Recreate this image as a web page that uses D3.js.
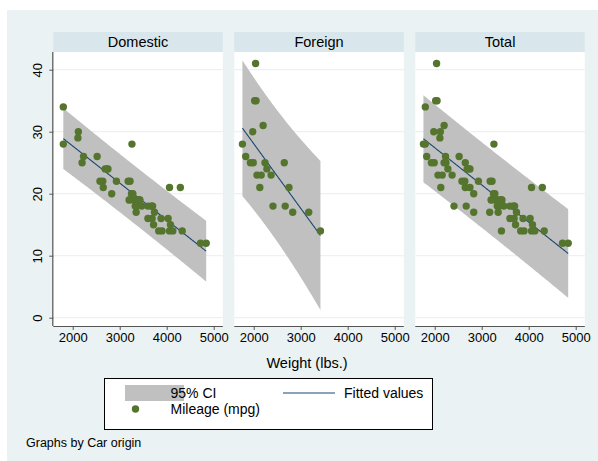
<!DOCTYPE html>
<html>
<head>
<meta charset="utf-8">
<script src="https://cdn.jsdelivr.net/npm/d3@7"></script>
<style>
  html, body { margin: 0; padding: 0; background: #ffffff; }
  svg { display: block; }
  text { font-family: "Liberation Sans", Arial, Helvetica, sans-serif; fill: #000; }
</style>
</head>
<body>
<svg id="chart" width="598" height="461"></svg>
<script>
// 1978 automobile data: curb weight (lbs.) and mileage (mpg), by car origin
const domesticWeight = [2930, 3350, 2640, 3250, 4080, 3670, 2230, 3280, 3880, 3400, 4330, 3900, 4290,
  2110, 3690, 3180, 3220, 2750, 3430, 2120, 3600, 3600, 3740, 1800, 2650, 4840, 4720, 3830, 2580,
  4060, 3720, 3370, 4130, 2830, 4060, 3310, 3300, 3690, 3370, 2730, 4030, 3260, 1800, 2200, 2520,
  3330, 3700, 3470, 3210, 3200, 3420, 2690];
const domesticMpg = [22, 17, 22, 20, 15, 18, 26, 20, 16, 19, 14, 14, 21,
  29, 16, 22, 22, 24, 19, 30, 18, 16, 17, 28, 21, 12, 12, 14, 22,
  14, 15, 18, 14, 20, 21, 19, 19, 18, 19, 24, 16, 28, 34, 25, 26,
  18, 18, 18, 19, 19, 19, 24];
const foreignWeight = [2830, 2070, 2650, 2370, 2020, 2280, 2750, 2130, 2240, 1760, 1980, 3420, 1830,
  2050, 2410, 2200, 2670, 2160, 2040, 1930, 1990, 3170];
const foreignMpg = [17, 23, 25, 23, 35, 24, 21, 21, 25, 28, 30, 14, 26,
  35, 18, 31, 18, 23, 41, 25, 25, 17];

const panelTitles = ["Domestic", "Foreign", "Total"];
const xTicks = [2000, 3000, 4000, 5000];
const yTicks = [0, 10, 20, 30, 40];
const legendLabels = ["95% CI", "Fitted values", "Mileage (mpg)"];
const xTitle = "Weight (lbs.)";
const note = "Graphs by Car origin";

// two-sided 95% Student t critical values by residual degrees of freedom
const tCrit = { 20: 2.0860, 50: 2.0086, 72: 1.9935 };

const groups = [
  { w: domesticWeight, m: domesticMpg },
  { w: foreignWeight, m: foreignMpg },
  { w: domesticWeight.concat(foreignWeight), m: domesticMpg.concat(foreignMpg) }
];

// least-squares line with 95% forecast interval (stdf) over the observed weight range
function linearFitCI(xs, ys, steps) {
  const n = xs.length;
  const mx = d3.mean(xs), my = d3.mean(ys);
  let sxx = 0, sxy = 0;
  for (let i = 0; i < n; i++) { sxx += (xs[i] - mx) ** 2; sxy += (xs[i] - mx) * (ys[i] - my); }
  const b = sxy / sxx, a = my - b * mx;
  let sse = 0;
  for (let i = 0; i < n; i++) sse += (ys[i] - a - b * xs[i]) ** 2;
  const s = Math.sqrt(sse / (n - 2));
  const t = tCrit[n - 2];
  const [lo, hi] = d3.extent(xs);
  return d3.range(steps + 1).map(k => {
    const x = lo + (hi - lo) * k / steps;
    const fit = a + b * x;
    const half = t * s * Math.sqrt(1 + 1 / n + (x - mx) ** 2 / sxx);
    return { x, fit, lower: fit - half, upper: fit + half };
  });
}

const C = {
  bg: "#eaf2f3", strip: "#d9e6eb", grid: "#eaf2f3", band: "#c0c0c0",
  line: "#1a476f", marker: "#55752f", axis: "#555555"
};

const svg = d3.select("#chart");
svg.append("rect").attr("x", 7).attr("y", 10).attr("width", 591).attr("height", 451).attr("fill", C.bg);

const plotTop = 52, plotBottom = 326, stripTop = 32;
const panelW = 169.5, panelStep = 181, firstLeft = 53.3;

const y = d3.scaleLinear().domain([0, 40]).range([317.7, 69.7]);

panelTitles.forEach((title, p) => {
  const left = firstLeft + p * panelStep;
  const x = d3.scaleLinear().domain([1587, 1587 + panelW / 0.047]).range([left, left + panelW]);
  const g = svg.append("g");

  // title strip
  g.append("rect").attr("x", left).attr("y", stripTop).attr("width", panelW).attr("height", plotTop - stripTop).attr("fill", C.strip);
  g.append("text").attr("x", left + panelW / 2).attr("y", (stripTop + plotTop) / 2).attr("dy", "0.36em")
    .attr("text-anchor", "middle").attr("font-size", 14.5).text(title);

  // plot region and gridlines
  g.append("rect").attr("x", left).attr("y", plotTop).attr("width", panelW).attr("height", plotBottom - plotTop).attr("fill", "#ffffff");
  g.selectAll("line.grid").data(yTicks).join("line").attr("class", "grid")
    .attr("x1", left).attr("x2", left + panelW)
    .attr("y1", d => y(d)).attr("y2", d => y(d))
    .attr("stroke", C.grid).attr("stroke-width", 1.2);

  // fitted line with confidence band
  const pts = linearFitCI(groups[p].w, groups[p].m, 100);
  g.append("path").datum(pts)
    .attr("d", d3.area().x(d => x(d.x)).y0(d => y(d.lower)).y1(d => y(d.upper)))
    .attr("fill", C.band);
  g.append("path").datum(pts)
    .attr("d", d3.line().x(d => x(d.x)).y(d => y(d.fit)))
    .attr("fill", "none").attr("stroke", C.line).attr("stroke-width", 1.1);

  // observations
  g.selectAll("circle").data(d3.range(groups[p].w.length)).join("circle")
    .attr("cx", i => x(groups[p].w[i])).attr("cy", i => y(groups[p].m[i]))
    .attr("r", 3.7).attr("fill", C.marker);

  // x axis
  const xAxis = g.append("g").attr("transform", `translate(0,${plotBottom})`)
    .call(d3.axisBottom(x).tickValues(xTicks).tickSize(4).tickPadding(3).tickFormat(d3.format("d")));
  xAxis.select(".domain").attr("stroke", C.axis).attr("stroke-width", 1.2).attr("d", `M${left},0.5H${left + panelW}`);
  xAxis.selectAll(".tick line").attr("stroke", C.axis);
  xAxis.selectAll(".tick text").attr("font-size", 13).attr("font-family", "Liberation Sans, Arial, sans-serif").attr("fill", "#000");

  // y axis on the first panel only
  if (p === 0) {
    const yAxis = g.append("g").attr("transform", `translate(${left},0)`)
      .call(d3.axisLeft(y).tickValues(yTicks).tickSize(4).tickFormat(d3.format("d")));
    yAxis.select(".domain").attr("stroke", C.axis).attr("stroke-width", 1.2).attr("d", `M-0.5,${plotTop}V${plotBottom}`);
    yAxis.selectAll(".tick line").attr("stroke", C.axis);
    yAxis.selectAll(".tick text").attr("font-size", 13).attr("font-family", "Liberation Sans, Arial, sans-serif").attr("fill", "#000")
      .attr("x", null).attr("dy", null)
      .attr("transform", "translate(-16,0) rotate(-90)")
      .attr("text-anchor", "middle").attr("dominant-baseline", "central");
  }
});

// x axis title
svg.append("text").attr("x", 307).attr("y", 363).attr("dy", "0.36em").attr("text-anchor", "middle")
  .attr("font-size", 14.5).text(xTitle);

// legend
const lg = svg.append("g");
lg.append("rect").attr("x", 104.5).attr("y", 378.5).attr("width", 328).attr("height", 51)
  .attr("fill", "#ffffff").attr("stroke", "#000").attr("stroke-width", 1);
lg.append("rect").attr("x", 125).attr("y", 385).attr("width", 59).attr("height", 16).attr("fill", C.band);
lg.append("text").attr("x", 170.5).attr("y", 393).attr("dy", "0.36em").attr("font-size", 14).text(legendLabels[0]);
lg.append("line").attr("x1", 283).attr("x2", 335).attr("y1", 393).attr("y2", 393).attr("stroke", C.line).attr("stroke-width", 1.1);
lg.append("text").attr("x", 344).attr("y", 393).attr("dy", "0.36em").attr("font-size", 14).text(legendLabels[1]);
lg.append("circle").attr("cx", 135.5).attr("cy", 409).attr("r", 3.7).attr("fill", C.marker);
lg.append("text").attr("x", 170.5).attr("y", 409).attr("dy", "0.36em").attr("font-size", 14).text(legendLabels[2]);

// note
svg.append("text").attr("x", 26).attr("y", 442).attr("dy", "0.36em").attr("font-size", 12.5).text(note);
</script>
</body>
</html>
